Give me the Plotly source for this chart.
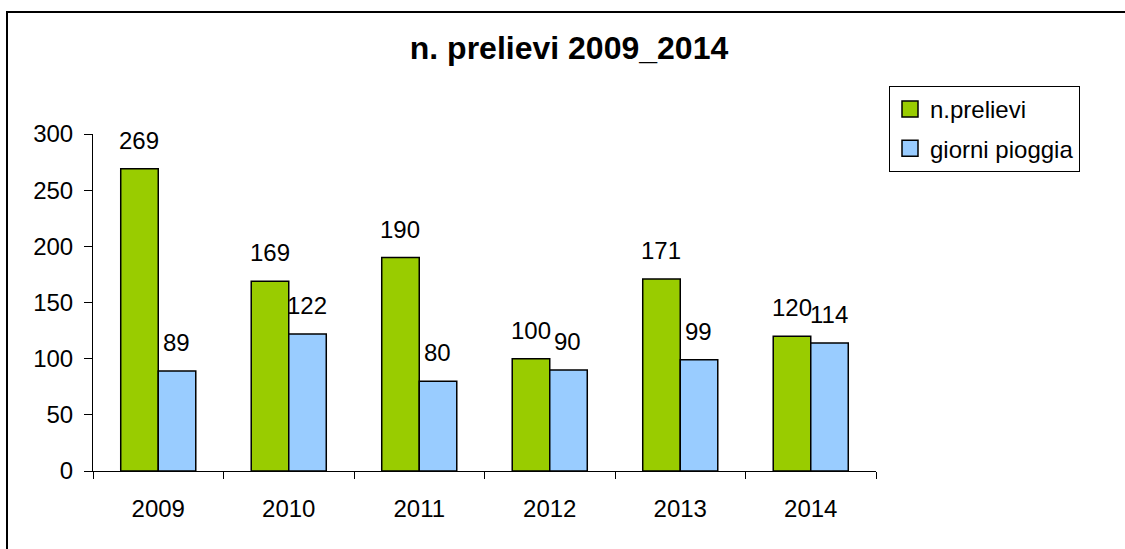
import plotly.graph_objects as go

years = ["2009", "2010", "2011", "2012", "2013", "2014"]
prelievi = [269, 169, 190, 100, 171, 120]
pioggia = [89, 122, 80, 90, 99, 114]
series_names = ["n.prelievi", "giorni pioggia"]
title_text = "n. prelievi 2009_2014"

FONT = "Liberation Sans, Arial, sans-serif"
GREEN = "#99CC00"
BLUE = "#99CCFF"

fig = go.Figure()
fig.add_trace(go.Bar(x=years, y=prelievi, name=series_names[0], legendgroup="a", showlegend=False,
                     marker=dict(color=GREEN, line=dict(color="black", width=1.5))))
fig.add_trace(go.Bar(x=years, y=pioggia, name=series_names[1], legendgroup="b", showlegend=False,
                     marker=dict(color=BLUE, line=dict(color="black", width=1.5))))
# legend entries with larger square swatches
for name, col, grp in ((series_names[0], GREEN, "a"), (series_names[1], BLUE, "b")):
    fig.add_trace(go.Scatter(x=[None], y=[None], mode="markers", name=name, legendgroup=grp,
                             marker=dict(symbol="square", size=16, color=col,
                                         line=dict(color="black", width=1.5)),
                             hoverinfo="skip"))

# data labels (x given as category index on the category axis)
for vals, dx in ((prelievi, -19), (pioggia, 18)):
    for i, v in enumerate(vals):
        fig.add_annotation(x=i, y=v, text=str(v), showarrow=False, xref="x", yref="y",
                           yanchor="bottom", xanchor="center", xshift=dx, yshift=13,
                           font=dict(family=FONT, size=24, color="black"))

L, R, T, B = 93, 876, 134, 471
W, H = 1125, 549
pw, ph = R - L, B - T

# outer chart border
fig.add_shape(type="rect", xref="paper", yref="paper",
              x0=(7 - L) / pw, x1=(1135 - L) / pw,
              y0=(B - 560) / ph, y1=(B - 12) / ph,
              line=dict(color="black", width=2), fillcolor="rgba(0,0,0,0)", layer="below")

fig.update_layout(
    width=W, height=H,
    margin=dict(l=L, r=W - R, t=T, b=H - B, pad=0),
    paper_bgcolor="white", plot_bgcolor="white",
    barmode="group", bargap=0.425, bargroupgap=0,
    font=dict(family=FONT, size=24, color="black"),
    title=dict(text="<b>" + title_text + "</b>", xref="container", yref="container",
               x=569 / W, y=1 - 48 / H, xanchor="center", yanchor="middle",
               font=dict(family=FONT, size=32, color="black")),
    showlegend=True,
    legend=dict(x=(889 - L) / pw, y=(B - 86) / ph, xanchor="left", yanchor="top",
                bordercolor="black", borderwidth=1, bgcolor="white",
                font=dict(family=FONT, size=24, color="black"),
                traceorder="grouped", tracegroupgap=5, itemwidth=30),
    xaxis=dict(type="category", range=[-0.5, len(years) - 0.5], autorange=False,
               showline=True, linecolor="black", linewidth=1,
               ticks="outside", tickson="boundaries", ticklen=7, tickcolor="black",
               showgrid=False, zeroline=False, ticklabelstandoff=16, tickangle=0,
               tickfont=dict(family=FONT, size=24, color="black")),
    yaxis=dict(range=[0, 300], tickvals=[0, 50, 100, 150, 200, 250, 300],
               showline=True, linecolor="black", linewidth=1,
               ticks="outside", ticklen=8, tickcolor="black",
               showgrid=False, zeroline=False, ticklabelstandoff=6,
               tickfont=dict(family=FONT, size=24, color="black")),
)

fig.write_html("out.html", config={"displayModeBar": False},
               post_script="document.body.style.margin='0';")
